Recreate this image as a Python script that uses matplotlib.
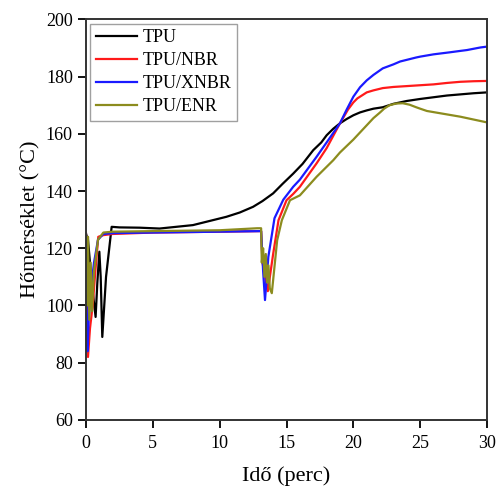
import numpy as np
import matplotlib
matplotlib.use('Agg')
import matplotlib.pyplot as plt

plt.rcParams['font.family'] = ['Liberation Serif', 'DejaVu Serif']

# TPU (fekete)
t_tpu = [0, 0.15, 0.3, 0.5, 0.72, 0.85, 1.0, 1.1, 1.22, 1.5, 1.92, 2.5, 4, 5.5, 8, 10.5, 11.5, 12.5, 13.2, 14,
         14.7, 15.5, 16.2, 17, 17.6, 18, 18.5, 19, 19.5, 20, 20.5, 21, 21.5, 22.2, 23, 24, 25, 26, 27, 28, 29, 30]
T_tpu = [125, 123, 115, 105, 96, 108, 118.8, 110, 89, 110, 127.5, 127.3, 127.2, 126.9, 128.1, 131, 132.5, 134.5,
         136.5, 139.2, 142.5, 146.1, 149.5, 154.3, 157, 159.5, 161.8, 163.7, 165.2, 166.5, 167.5, 168.2, 168.8,
         169.3, 170.5, 171.5, 172.2, 172.8, 173.4, 173.8, 174.2, 174.5]

# TPU/NBR
t_nbr = [0, 0.05, 0.15, 0.3, 0.5, 0.7, 0.92, 1.3, 2, 5, 10, 13.1, 13.2, 13.6, 14.0, 14.4, 15.0, 15.5, 16,
         17.25, 18, 19, 19.6, 20.0, 20.3, 20.7, 21, 21.5, 22.2, 23, 24, 25, 26, 27, 28, 29, 30]
T_nbr = [125, 110, 82, 92, 100, 112, 124, 124.6, 125, 125.5, 125.8, 126, 115, 105, 118, 129.8, 136.8, 139, 141.5,
         149.7, 155, 163.7, 168.5, 171, 172.4, 173.6, 174.5, 175.2, 176, 176.4, 176.7, 177, 177.3, 177.8, 178.2,
         178.4, 178.5]

# TPU/XNBR
t_xnbr = [0, 0.05, 0.12, 0.2, 0.35, 0.6, 0.9, 1.3, 2, 5, 10, 13.1, 13.25, 13.39, 13.64, 14.1, 14.76, 15.5, 16,
          17.25, 18, 19, 19.5, 20, 20.5, 21, 21.5, 22.2, 23, 23.5, 24.7, 25, 26, 27.2, 28, 28.5, 29.5, 30]
T_xnbr = [125, 100, 84, 95, 105, 115, 123, 125, 125.3, 125.5, 125.8, 126, 112, 101.9, 117, 130.5, 137, 141.5, 144,
          152, 157, 163.7, 168.5, 173, 176.3, 178.7, 180.6, 182.9, 184.3, 185.3, 186.7, 187, 187.8, 188.5, 189,
          189.3, 190.2, 190.5]

# TPU/ENR
t_enr = [0, 0.08, 0.15, 0.25, 0.35, 0.45, 0.6, 0.9, 1.3, 2, 5, 10, 12.8, 13.1, 13.15, 13.25, 13.35, 13.45, 13.55,
         13.65, 13.75, 13.9, 14.3, 14.65, 15.26, 16, 17.25, 18.5, 19, 20, 21, 21.5, 22, 22.3, 22.7, 23.2, 23.7,
         24.2, 24.7, 25.0, 25.5, 26, 26.5, 28, 30]
T_enr = [125, 100, 124, 95, 115, 98, 112, 123, 125.5, 125.8, 126, 126.3, 127, 127, 115, 120, 110, 118, 108,
         114, 106, 104.3, 122.8, 129.8, 136.8, 138.5, 145, 150.8, 153.5, 158, 163, 165.5, 167.5, 168.8, 170,
         170.6, 170.7, 170.2, 169.3, 168.8, 168, 167.6, 167.2, 166, 164]

fig = plt.figure(figsize=(4.97, 4.86), dpi=100)
ax = fig.add_axes([0.173, 0.136, 0.807, 0.824])

ax.plot(t_tpu, T_tpu, color='black', lw=1.6, label='TPU')
ax.plot(t_nbr, T_nbr, color='#ff1a1a', lw=1.6, label='TPU/NBR')
ax.plot(t_xnbr, T_xnbr, color='#1a1aff', lw=1.6, label='TPU/XNBR')
ax.plot(t_enr, T_enr, color='#8c8c1e', lw=1.6, label='TPU/ENR')

ax.set_xlim(0, 30)
ax.set_ylim(60, 200)
ax.set_xticks(np.arange(0, 31, 5))
ax.set_yticks(np.arange(60, 201, 20))
ax.tick_params(direction='out', length=6, width=1.3, labelsize=13)
ax.tick_params(axis='x', pad=5)
for s in ax.spines.values():
    s.set_linewidth(1.4)
    s.set_color('#333333')

ax.set_xlabel('Idő (perc)', fontsize=16, labelpad=10)
ax.set_ylabel('Hőmérséklet (°C)', fontsize=16, labelpad=4)

leg = ax.legend(loc='upper left', fontsize=13, frameon=True, fancybox=False,
                handlelength=2.3, borderpad=0.3, labelspacing=0.33, handletextpad=0.3,
                borderaxespad=0.25)
leg.get_frame().set_edgecolor('#888888')
leg.get_frame().set_linewidth(1.0)

fig.savefig('out.png', dpi=100)
